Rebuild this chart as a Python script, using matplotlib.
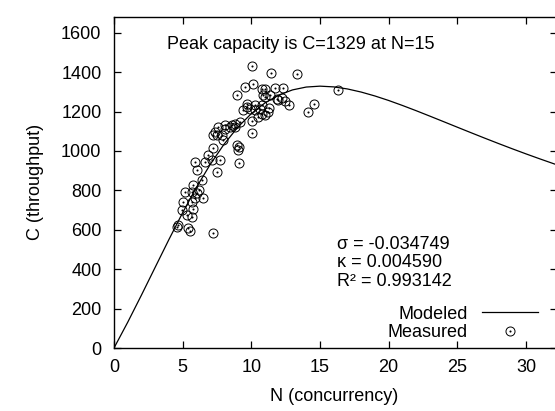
import numpy as np
import matplotlib
matplotlib.use('Agg')
import matplotlib.pyplot as plt
from matplotlib.legend_handler import HandlerTuple

plt.rcParams['font.family'] = ['Liberation Sans', 'DejaVu Sans']
plt.rcParams['font.size'] = 13

# %% Data

# modeled curve (N, C)
model_n = [0, 1, 2, 3, 4, 5, 6, 7, 8, 9, 10, 11, 12, 13, 14, 15, 16,
           17, 18, 19, 20, 21, 22, 23, 24, 25, 26, 27, 28, 29, 30, 31, 32, 33]
model_c = [0, 130.9, 268.7, 409.9, 550.7, 686.9, 814.8, 930.9, 1032.9,
           1119.4, 1189.6, 1244.1, 1283.7, 1310.0, 1324.5, 1329.0, 1325.3,
           1314.8, 1299.0, 1279.2, 1256.3, 1231.1, 1204.5, 1176.9, 1148.9,
           1120.7, 1092.7, 1065.0, 1037.8, 1011.2, 985.3, 960.2, 935.8, 912.3]

# measured points
meas_n = [4.57, 4.68, 5.41, 5.53, 4.93, 5.29, 5.66, 5.78, 5.05, 5.66,
          6.02, 6.50, 5.17, 5.78, 6.39, 5.66, 5.90, 6.63, 6.87, 7.23,
          7.96, 7.72, 7.48, 7.36, 7.60, 8.08, 8.57, 8.81, 7.23, 7.48,
          7.84, 8.08, 8.45, 8.81, 9.18, 10.03, 10.03, 9.13, 9.06, 9.13,
          8.93, 7.20, 7.12, 5.90, 6.20, 6.02,
          8.93, 9.54, 10.03, 10.15, 11.00, 11.41, 11.73, 12.33, 13.30, 10.78,
          11.00, 10.88, 11.36, 11.85, 12.21, 12.45, 11.97, 12.77, 10.76, 9.66,
          9.42, 9.90, 10.27, 10.76, 11.00, 10.51, 9.70, 10.30, 10.60, 11.20,
          11.30, 14.10, 14.57, 16.34]
meas_c = [615, 624, 607, 592, 700, 674, 666, 708, 742, 742,
          785, 759, 793, 827, 852, 793, 945, 945, 979, 1013,
          1055, 953, 895, 1097, 1122, 1131, 1131, 1120, 1080, 1080,
          1082, 1114, 1122, 1139, 1148, 1151, 1089, 1018, 1004, 940,
          1032, 585, 953, 760, 800, 905,
          1283, 1325, 1430, 1342, 1317, 1398, 1320, 1322, 1389, 1313,
          1275, 1283, 1286, 1266, 1269, 1252, 1258, 1232, 1232, 1224,
          1207, 1215, 1207, 1190, 1181, 1173, 1240, 1235, 1215, 1200,
          1220, 1198, 1236, 1308]

x_ticks = [0, 5, 10, 15, 20, 25, 30]
y_ticks = [0, 200, 400, 600, 800, 1000, 1200, 1400, 1600]

sigma, kappa, r2 = -0.034749, 0.004590, 0.993142
peak_c, peak_n = 1329, 15

# %% Plot

fig = plt.figure(figsize=(5.55, 4.11), dpi=100)
ax = fig.add_axes([114 / 555, 63 / 411, 443 / 555, 331 / 411])

line, = ax.plot(model_n, model_c, color='black', lw=0.9, label='Modeled')
circ, = ax.plot(meas_n, meas_c, 'o', ms=6.5, mfc='none', mec='black', mew=0.7)
dot, = ax.plot(meas_n, meas_c, 'o', ms=1.5, mfc='black', mec='black', mew=0)

ax.set_xlim(0, 32.26)
ax.set_ylim(0, 1680)
ax.set_xticks(x_ticks)
ax.set_yticks(y_ticks)
ax.tick_params(direction='in', length=5, width=0.9, top=True, right=True,
               labelsize=13)
ax.tick_params(axis='x', pad=8)
ax.tick_params(axis='y', pad=9)
for s in ax.spines.values():
    s.set_linewidth(1.0)

fig.text(35 / 555, 1 - 182 / 411, 'C (throughput)', rotation=90,
         ha='center', va='center', fontsize=13)
fig.text(334 / 555, 1 - 396 / 411, 'N (concurrency)',
         ha='center', va='center', fontsize=13)

ax.text(13.6, 1516, 'Peak capacity is C={} at N={}'.format(peak_c, peak_n),
        ha='center', va='baseline', fontsize=13)
ax.text(16.24, 527, '\u03c3 = {:.6f}'.format(sigma), ha='left', va='center')
ax.text(16.24, 436, '\u03ba = {:.6f}'.format(kappa), ha='left', va='center')
ax.text(16.24, 340, 'R\u00b2 = {:.6f}'.format(r2), ha='left', va='center')

ax.legend([line, (circ, dot)], ['Modeled', 'Measured'],
          handler_map={tuple: HandlerTuple(ndivide=1, pad=0)},
          loc='lower right', bbox_to_anchor=(0.957, 0.02),
          markerfirst=False, frameon=False, borderpad=0, borderaxespad=0,
          handlelength=3.1, handletextpad=0.8, labelspacing=0.1,
          fontsize=13)

plt.savefig('out.png', dpi=100)
